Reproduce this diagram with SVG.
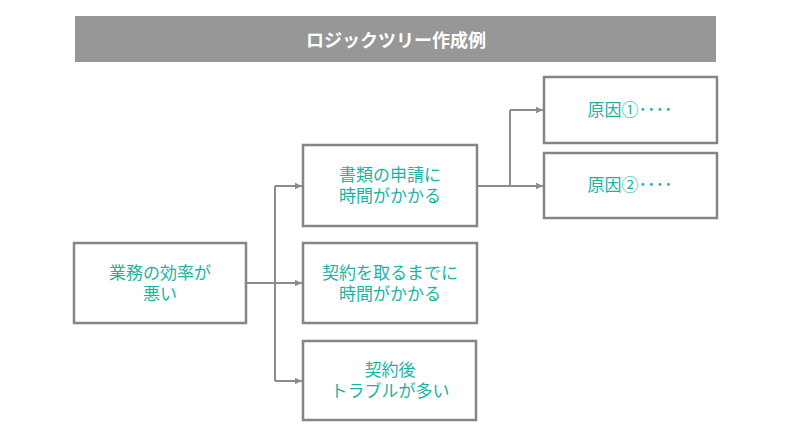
<svg xmlns="http://www.w3.org/2000/svg" width="792" height="434" viewBox="0 0 792 434">
<defs>
<marker id="arr" markerWidth="8" markerHeight="8" refX="7" refY="4" orient="auto" markerUnits="userSpaceOnUse">
<path d="M0,0.8 L7,4 L0,7.2 Z" fill="#8c8c8c"/>
</marker>
<style>
.box{fill:#ffffff;stroke:#858585;stroke-width:2.5}
.t{font-family:"Noto Sans CJK JP","Noto Sans",sans-serif;font-size:17px;fill:#1bb4a2;text-anchor:middle}
.c{fill:none;stroke:#8c8c8c;stroke-width:2}
</style>
</defs>
<rect width="792" height="434" fill="#ffffff"/>
<g id="title">
<rect x="75" y="16" width="641" height="46" fill="#979797"/>
<text x="396" y="47" font-family="'Noto Sans CJK JP','Noto Sans',sans-serif" font-size="18" font-weight="bold" fill="#ffffff" text-anchor="middle">ロジックツリー作成例</text>
</g>
<g id="connectors">
<path class="c" d="M247,283 H275"/>
<path class="c" d="M275,186 V381"/>
<path class="c" d="M275,186 H302" marker-end="url(#arr)"/>
<path class="c" d="M275,283 H302" marker-end="url(#arr)"/>
<path class="c" d="M275,381 H302" marker-end="url(#arr)"/>
<path class="c" d="M478,186 H510"/>
<path class="c" d="M510,110 V186"/>
<path class="c" d="M510,110 H543" marker-end="url(#arr)"/>
<path class="c" d="M510,186 H543" marker-end="url(#arr)"/>
</g>
<g id="root">
<rect class="box" x="74" y="243" width="172" height="80"/>
<text class="t"><tspan x="160" y="279">業務の効率が</tspan><tspan x="160" y="300">悪い</tspan></text>
</g>
<g id="n1">
<rect class="box" x="303" y="145" width="174" height="81"/>
<text class="t"><tspan x="390" y="181">書類の申請に</tspan><tspan x="390" y="202">時間がかかる</tspan></text>
</g>
<g id="n2">
<rect class="box" x="303" y="243" width="174" height="80"/>
<text class="t"><tspan x="390" y="279">契約を取るまでに</tspan><tspan x="390" y="300">時間がかかる</tspan></text>
</g>
<g id="n3">
<rect class="box" x="303" y="341" width="173" height="79"/>
<text class="t"><tspan x="390" y="376">契約後</tspan><tspan x="390" y="397">トラブルが多い</tspan></text>
</g>
<g id="c1">
<rect class="box" x="544" y="77" width="173" height="66"/>
<text class="t" x="630" y="116">原因①････</text>
</g>
<g id="c2">
<rect class="box" x="544" y="153" width="173" height="65"/>
<text class="t" x="630" y="191">原因②････</text>
</g>
</svg>
